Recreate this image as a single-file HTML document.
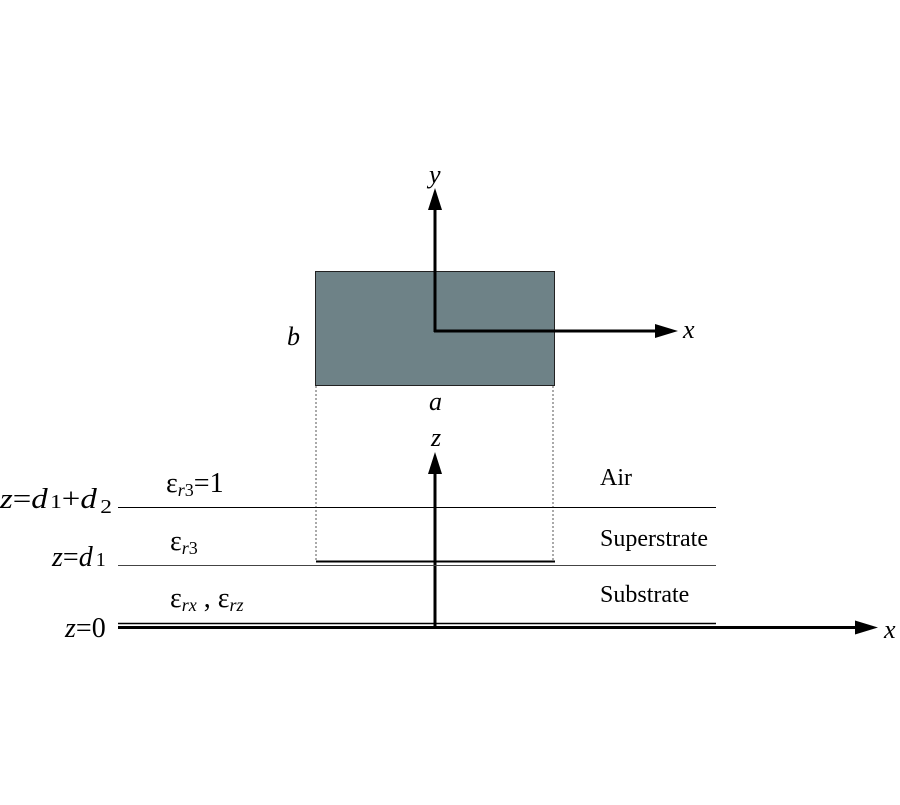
<!DOCTYPE html>
<html><head><style>body{margin:0;background:#fff}</style></head><body>
<svg width="900" height="800" viewBox="0 0 900 800" xmlns="http://www.w3.org/2000/svg" font-family="Liberation Serif, serif" font-size="24">
<rect x="315.5" y="271.5" width="239" height="114" fill="#6e8287" stroke="#222" stroke-width="1"/>
<line x1="316" y1="386" x2="316" y2="560" stroke="#555" stroke-dasharray="2,2"/>
<line x1="553" y1="386" x2="553" y2="560" stroke="#555" stroke-dasharray="2,2"/>
<line x1="435" y1="332" x2="435" y2="208" stroke="#000" stroke-width="3"/>
<polygon points="435,188 428,210 442,210" fill="#000"/>
<line x1="434" y1="331" x2="656" y2="331" stroke="#000" stroke-width="3"/>
<polygon points="678,331 655,324 655,338" fill="#000"/>
<line x1="435" y1="626" x2="435" y2="472" stroke="#000" stroke-width="3"/>
<polygon points="435,452 428,474 442,474" fill="#000"/>
<line x1="118" y1="507.5" x2="716" y2="507.5" stroke="#000" stroke-width="1"/>
<line x1="118" y1="565.5" x2="716" y2="565.5" stroke="#444" stroke-width="1"/>
<line x1="316" y1="561.5" x2="555" y2="561.5" stroke="#000" stroke-width="2"/>
<line x1="118" y1="623.5" x2="716" y2="623.5" stroke="#000" stroke-width="1.5"/>
<line x1="118" y1="627.5" x2="856" y2="627.5" stroke="#000" stroke-width="3"/>
<polygon points="878,627.5 855,620.5 855,634.5" fill="#000"/>
<g font-style="italic" font-size="26">
<text x="429" y="183">y</text>
<text x="683" y="338">x</text>
<text x="287" y="345">b</text>
<text x="429" y="410">a</text>
<text x="431" y="446">z</text>
<text x="884" y="638">x</text>
</g>
<g font-size="28">
<text x="0" y="508" textLength="112" lengthAdjust="spacingAndGlyphs"><tspan font-style="italic">z</tspan>=<tspan font-style="italic">d</tspan><tspan font-size="20" dx="2">1</tspan>+<tspan font-style="italic">d</tspan><tspan font-size="20" dx="3" dy="5">2</tspan></text>
<text x="52" y="566"><tspan font-style="italic">z</tspan>=<tspan font-style="italic">d</tspan><tspan font-size="20" dx="3">1</tspan></text>
<text x="65" y="637"><tspan font-style="italic">z</tspan>=0</text>
<text x="166" y="492">ε<tspan font-size="18" font-style="italic" dy="4">r</tspan><tspan font-size="18">3</tspan><tspan dy="-4">=1</tspan></text>
<text x="170" y="550">ε<tspan font-size="18" font-style="italic" dy="4">r</tspan><tspan font-size="18">3</tspan></text>
<text x="170" y="607">ε<tspan font-size="18" font-style="italic" dy="4">rx</tspan><tspan dy="-4"> , ε</tspan><tspan font-size="18" font-style="italic" dy="4">rz</tspan></text>
</g>
<text x="600" y="485">Air</text>
<text x="600" y="546">Superstrate</text>
<text x="600" y="602">Substrate</text>
</svg>
</body></html>
